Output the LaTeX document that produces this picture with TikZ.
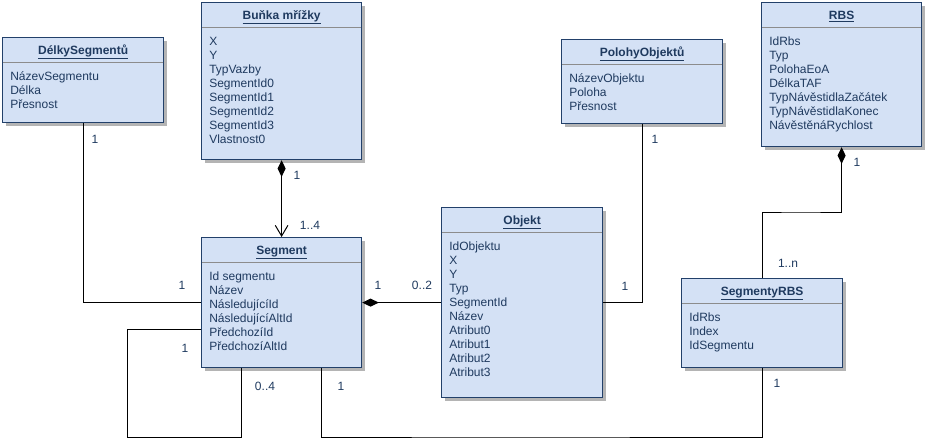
\documentclass[tikz,border=0pt]{standalone}
\usepackage{fontspec}
\setmainfont{Liberation Sans}
\usetikzlibrary{arrows.meta,shadows}
\definecolor{boxfill}{HTML}{D4E1F5}
\definecolor{boxline}{HTML}{22406A}
\definecolor{txt}{HTML}{1F3A5F}
\definecolor{sepline}{HTML}{8C8C8C}
\definecolor{shadowc}{HTML}{B4B4B4}
\tikzset{
  umlbox/.style={draw=boxline, fill=boxfill, line width=0.9pt, rectangle, inner sep=0pt,
    anchor=north west,
    drop shadow={shadow xshift=2.3pt, shadow yshift=-2.3pt, fill=shadowc, opacity=1}},
  titletext/.style={font=\fontsize{9}{10.5}\selectfont\bfseries, text=txt, inner sep=0pt, anchor=base},
  attr/.style={font=\fontsize{9}{10.5}\selectfont, text=txt, inner sep=0pt, anchor=base west},
  mult/.style={font=\fontsize{9}{10.5}\selectfont, text=txt, inner sep=0pt},
  conn/.style={draw=black, line width=0.75pt},
  comp/.style={{Diamond[length=12.5pt,width=6pt]}-},
  compnav/.style={{Diamond[length=12.5pt,width=6pt]}-{Straight Barb[length=8pt,width=9.5pt,line width=0.75pt]}},
}
% \umlclass{name}{x}{y}{w}{h}{title}{attrs}
\newcommand{\umlclass}[7]{%
  \node[umlbox, minimum width=#4*0.75pt, minimum height=#5*0.75pt] (#1) at (#2,#3) {};
  \draw[sepline, line width=0.6pt] ([shift={(1,25)}]#1.north west) -- ([shift={(-1,25)}]#1.north east);
  \node[titletext] (#1-title) at ([shift={(0,17)}]#1.north) {\underline{#6}};
  \foreach \t [count=\i] in {#7} {
    \node[attr] (#1-a\i) at ([shift={(8,43+14*\i-14)}]#1.north west) {\t};
  }%
}
\begin{document}
\begin{tikzpicture}[x=0.75pt, y=-0.75pt]
\useasboundingbox (0,0) rectangle (925,440);

\umlclass{delky}{2}{37}{161}{85}{DélkySegmentů}{NázevSegmentu, Délka, Přesnost}
\umlclass{bunka}{201}{2}{160}{157}{Buňka mřížky}{X, Y, TypVazby, SegmentId0, SegmentId1, SegmentId2, SegmentId3, Vlastnost0}
\umlclass{segment}{201}{237}{160}{130}{Segment}{Id segmentu, Název, NásledujícíId, NásledujícíAltId, PředchozíId, PředchozíAltId}
\umlclass{objekt}{441}{207}{161}{190}{Objekt}{IdObjektu, X, Y, Typ, SegmentId, Název, Atribut0, Atribut1, Atribut2, Atribut3}
\umlclass{polohy}{561}{39}{161}{84}{PolohyObjektů}{NázevObjektu, Poloha, Přesnost}
\umlclass{rbs}{761}{2}{160}{144}{RBS}{IdRbs, Typ, PolohaEoA, DélkaTAF, TypNávěstidlaZačátek, TypNávěstidlaKonec, NávěstěnáRychlost}
\umlclass{segrbs}{681}{278}{161}{89}{SegmentyRBS}{IdRbs, Index, IdSegmentu}

\coordinate (rbsbend) at (800,212);
\coordinate (loopc) at (127,437);
\coordinate (bottomc) at (500,437);

% connectors
\draw[conn] (delky.south) |- (segment.west);
\draw[conn, compnav] (bunka.south) -- (segment.north);
\draw[conn, comp] (segment.east) -- (objekt.west |- segment.east);
\draw[conn] (polohy.south) |- (objekt.east |- segment.east);
\draw[conn, comp] (rbs.south) |- (rbsbend) -| (segrbs.north);
\draw[conn] ([shift={(0,27)}]segment.west) -| (loopc) -| ([shift={(40,0)}]segment.south west);
\draw[conn] ([shift={(40,0)}]segment.south) |- (bottomc) -| (segrbs.south);

% multiplicities
\node[mult] (m1) at (95,139) {1};
\node[mult] (m2) at (182,285) {1};
\node[mult] (m3) at (297,175) {1};
\node[mult] (m4) at (310,225) {1..4};
\node[mult] (m5) at (378,285) {1};
\node[mult] (m6) at (422,285) {0..2};
\node[mult] (m7) at (655,139) {1};
\node[mult] (m8) at (625,286) {1};
\node[mult] (m9) at (857,162) {1};
\node[mult] (m10) at (788,263) {1..n};
\node[mult] (m11) at (185,348) {1};
\node[mult] (m12) at (265,386) {0..4};
\node[mult] (m13) at (341,386) {1};
\node[mult] (m14) at (777,383) {1};
\end{tikzpicture}
\end{document}
